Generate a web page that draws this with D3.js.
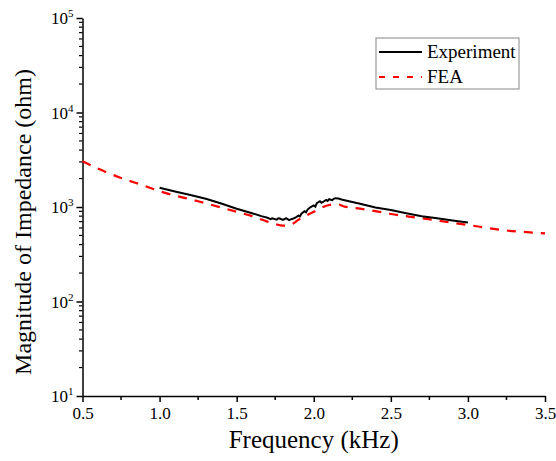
<!DOCTYPE html>
<html>
<head>
<meta charset="utf-8">
<script src="https://cdn.jsdelivr.net/npm/d3@7"></script>
<style>
  body { margin: 0; background: #fff; }
</style>
</head>
<body>
<div id="chart"></div>
<script>
'use strict';

var FONT = "'Liberation Serif'";

// measured impedance (kHz, ohm)
var expFreq = [1.00, 1.10, 1.20, 1.30, 1.40, 1.50, 1.60, 1.66, 1.70, 1.72, 1.73, 1.74, 1.76, 1.77, 1.78, 1.80,
    1.81, 1.82, 1.84, 1.85, 1.86, 1.88, 1.90, 1.91, 1.92, 1.94, 1.95, 1.96, 1.98, 2.00, 2.01, 2.02, 2.04, 2.05,
    2.06, 2.08, 2.09, 2.10, 2.12, 2.13, 2.14, 2.16, 2.18, 2.20, 2.30, 2.40, 2.50, 2.60, 2.70, 2.80, 2.90, 3.00];
var expMag = [1600, 1460, 1340, 1220, 1090, 960, 860, 800, 770, 745, 760, 750, 735, 760, 755, 730,
    745, 760, 725, 740, 745, 770, 810, 795, 850, 900, 880, 940, 1000, 1040, 1010, 1100, 1150, 1110,
    1130, 1190, 1160, 1210, 1180, 1220, 1240, 1230, 1200, 1180, 1080, 990, 930, 860, 800, 760, 720, 685];

// simulated impedance
var feaFreq = [0.5, 0.6, 0.75, 0.9, 1.0, 1.25, 1.5, 1.6, 1.7, 1.75, 1.8, 1.85, 1.9, 1.95,
    2.0, 2.05, 2.1, 2.15, 2.2, 2.3, 2.4, 2.5, 2.7, 3.0, 3.25, 3.5];
var feaMag = [3050, 2550, 2030, 1680, 1470, 1150, 890, 800, 700, 660, 635, 650, 730, 810,
    890, 980, 1050, 1070, 1010, 960, 905, 843, 760, 645, 565, 527];

var xTicks = [0.5, 1.0, 1.5, 2.0, 2.5, 3.0, 3.5];
var xMinor = [0.75, 1.25, 1.75, 2.25, 2.75, 3.25];
var yDecades = [1, 2, 3, 4, 5];
var legendNames = ['Experiment', 'FEA'];

var W = 556, H = 461;
var margin = { left: 82.5, right: 11, top: 18, bottom: 65 };

var svg = d3.select('#chart').append('svg')
    .attr('width', W)
    .attr('height', H);

var x = d3.scaleLinear()
    .domain([0.5, 3.5])
    .range([margin.left, W - margin.right]);

var y = d3.scaleLog()
    .domain([10, 1e5])
    .range([H - margin.bottom, margin.top]);

// minor ticks for log axis: 2..9 in each decade
var yMinor = [];
yDecades.slice(0, 4).forEach(function (e) {
    for (var k = 2; k <= 9; k++) { yMinor.push(k * Math.pow(10, e)); }
});

// x axis
var xAxis = svg.append('g')
    .attr('transform', 'translate(0,' + y(10) + ')');
xAxis.call(d3.axisBottom(x).tickValues(xTicks).tickFormat(d3.format('.1f')).tickSize(6).tickSizeOuter(0));
xAxis.selectAll('.tick text')
    .style('font-family', FONT)
    .attr('font-size', 17)
    .attr('dy', '0.85em')
    .attr('fill', '#000');
xAxis.selectAll('line, path').attr('stroke', '#000').attr('stroke-width', 1.5);
xAxis.selectAll('.minor')
    .data(xMinor)
    .enter()
    .append('line')
    .attr('class', 'minor')
    .attr('x1', function (d) { return x(d); })
    .attr('x2', function (d) { return x(d); })
    .attr('y1', 0)
    .attr('y2', 4)
    .attr('stroke', '#000')
    .attr('stroke-width', 1.5);

// y axis
var yAxis = svg.append('g')
    .attr('transform', 'translate(' + x(0.5) + ',0)');
yAxis.call(d3.axisLeft(y).tickValues(yDecades.map(function (e) { return Math.pow(10, e); }))
    .tickFormat('').tickSize(6).tickSizeOuter(0));
yAxis.selectAll('line, path').attr('stroke', '#000').attr('stroke-width', 1.5);
yAxis.selectAll('.minor')
    .data(yMinor)
    .enter()
    .append('line')
    .attr('class', 'minor')
    .attr('x1', -3.5)
    .attr('x2', 0)
    .attr('y1', function (d) { return y(d); })
    .attr('y2', function (d) { return y(d); })
    .attr('stroke', '#000')
    .attr('stroke-width', 1.2);

// 10^n labels
var yLab = yAxis.selectAll('.ylab')
    .data(yDecades)
    .enter()
    .append('text')
    .attr('class', 'ylab')
    .style('font-family', FONT)
    .attr('x', -9)
    .attr('y', function (d) { return y(Math.pow(10, d)) + 6; })
    .attr('text-anchor', 'end')
    .attr('fill', '#000')
    .attr('font-size', 17);
yLab.append('tspan').text('10');
yLab.append('tspan')
    .attr('font-size', 11)
    .attr('dy', -7)
    .text(function (d) { return d; });

// axis titles
svg.append('text')
    .style('font-family', FONT)
    .attr('x', x(2.0))
    .attr('y', 448)
    .attr('text-anchor', 'middle')
    .attr('font-size', 25)
    .text('Frequency (kHz)');

svg.append('text')
    .style('font-family', FONT)
    .attr('transform', 'translate(31,' + ((margin.top + H - margin.bottom) / 2 + 15) + ') rotate(-90)')
    .attr('text-anchor', 'middle')
    .attr('font-size', 24)
    .text('Magnitude of Impedance (ohm)');

// lines
var line = d3.line()
    .x(function (d) { return x(d[0]); })
    .y(function (d) { return y(d[1]); });

svg.append('path')
    .datum(d3.zip(feaFreq, feaMag))
    .attr('d', line.curve(d3.curveMonotoneX))
    .attr('fill', 'none')
    .attr('stroke', '#f00')
    .attr('stroke-width', 2.2)
    .attr('stroke-dasharray', '9,8');

svg.append('path')
    .datum(d3.zip(expFreq, expMag))
    .attr('d', line.curve(d3.curveLinear))
    .attr('fill', 'none')
    .attr('stroke', '#000')
    .attr('stroke-width', 2);

// legend
var lg = svg.append('g').attr('transform', 'translate(376,38)');
lg.append('rect')
    .attr('width', 143)
    .attr('height', 51)
    .attr('fill', '#fff')
    .attr('stroke', '#888')
    .attr('stroke-width', 1);
var rows = lg.selectAll('.row')
    .data(legendNames)
    .enter()
    .append('g')
    .attr('transform', function (d, i) { return 'translate(0,' + (14 + i * 25) + ')'; });
rows.append('line')
    .attr('x1', 3)
    .attr('x2', 46)
    .attr('y1', 0)
    .attr('y2', 0)
    .attr('stroke', function (d, i) { return i === 0 ? '#000' : '#f00'; })
    .attr('stroke-width', 2)
    .attr('stroke-dasharray', function (d, i) { return i === 0 ? null : '6,8'; });
rows.append('text')
    .style('font-family', FONT)
    .attr('x', 51)
    .attr('y', 6)
    .attr('font-size', 19)
    .text(function (d) { return d; });
</script>
</body>
</html>
